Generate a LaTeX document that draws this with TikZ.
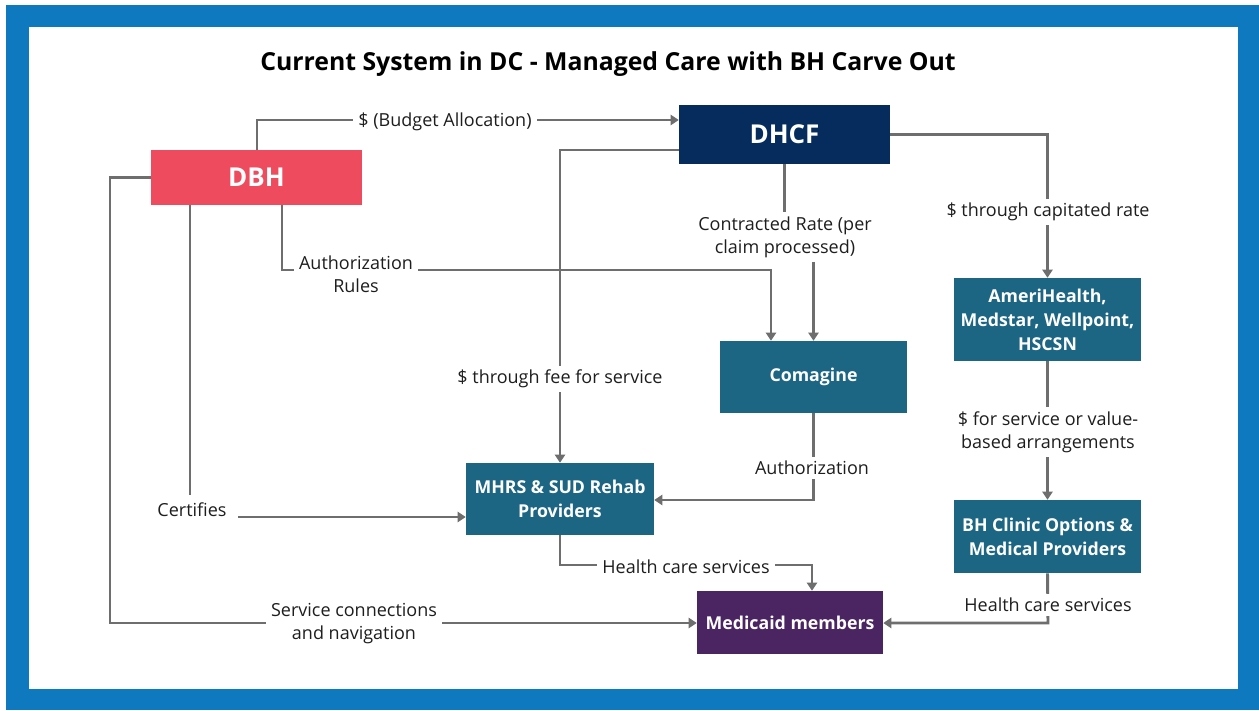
\documentclass[tikz,border=0pt]{standalone}
\usepackage{fontspec}
\setmainfont{Open Sans}
\usetikzlibrary{arrows.meta,calc}
\definecolor{frameblue}{HTML}{0F79BF}
\definecolor{dbhred}{HTML}{EF4B5E}
\definecolor{navy}{HTML}{052C5C}
\definecolor{teal}{HTML}{1C6684}
\definecolor{purp}{HTML}{4B2462}
\definecolor{linegray}{HTML}{6E6E6E}
\definecolor{txt}{HTML}{1E1E1E}
\begin{document}
\begin{tikzpicture}[x={(0.75pt,0)}, y={(0,-0.75pt)},
  box/.style 2 args={rectangle, inner sep=0pt, text=white, align=center,
    minimum width=#1*0.75pt, minimum height=#2*0.75pt},
  bigtxt/.style={font=\fontsize{19.5}{22}\selectfont\bfseries},
  smalltxt/.style={font=\fontsize{13.3}{18}\selectfont\bfseries},
  lbl/.style={fill=white, text=txt, align=center, inner xsep=4pt, inner ysep=3pt,
    yshift=-1.5pt, font=\fontsize{13.5}{17.3}\selectfont},
  conn/.style={draw=linegray, line width=2.2pt},
  arr/.style={conn, -{Triangle[length=6pt,width=7.5pt]}}]
\useasboundingbox (0,0) rectangle (1259,710);
\fill[white] (0,0) rectangle (1259,710);
\fill[frameblue] (6,5) rectangle (1259,710);
\fill[white] (29,27) rectangle (1238,689);

\node[text=black, font=\fontsize{18.6}{22}\selectfont\bfseries] (title) at (608,64) {Current System in DC - Managed Care with BH Carve Out};

% boxes
\node[box={211}{55}, fill=dbhred, bigtxt] (dbh) at (256.5,177.5) {DBH};
\node[box={211}{59}, fill=navy, bigtxt] (dhcf) at (784.5,134.5) {DHCF};
\node[box={187}{72}, fill=teal, smalltxt] (com) at (813.5,377) {Comagine};
\node[box={187}{83}, fill=teal, smalltxt] (ameri) at (1047.5,319.5) {AmeriHealth,\\Medstar, Wellpoint,\\HSCSN};
\node[box={188}{72}, fill=teal, smalltxt] (mhrs) at (560,499) {MHRS \& SUD Rehab\\Providers};
\node[box={187}{73}, fill=teal, smalltxt] (bhc) at (1047.5,536.5) {BH Clinic Options \&\\Medical Providers};
\node[box={186}{63}, fill=purp, smalltxt] (med) at (790,622.5) {Medicaid members};

% helper coordinates
\coordinate (b1) at (257,120);
\coordinate (f1) at (560,150);
\coordinate (r1) at (282,270);
\coordinate (r2) at (771,270);
\coordinate (s2) at (110,623);
\coordinate (c8) at (190,495);
\coordinate (c7) at (238,517);
\coordinate (h2) at (812,565);
\coordinate (h3) at (1048,623);
\coordinate (a1) at (813,500);

% connectors
\draw[arr] (dbh.north -| b1) |- (dhcf.west |- b1);
\draw[arr] (dhcf.west |- f1) -| (mhrs.north);
\draw[arr] (dhcf.east) -| (ameri.north);
\draw[arr] (dbh.south -| r1) |- (r2) -- (com.north -| r2);
\draw[arr] (dbh.west) -| (s2) -- (med.west |- s2);
\draw[conn] (dbh.south -| c8) -- (c8);
\draw[arr] (c7) -- (mhrs.west |- c7);
\draw[arr] (com.south) |- (mhrs.east |- a1);
\draw[arr] (mhrs.south) |- (h2) -- (med.north -| h2);
\draw[arr] (ameri.south) -- (bhc.north);
\draw[arr] (bhc.south) -- (h3) -- (med.east |- h3);
\draw[conn] (dhcf.south) -- ++(0,60);

% labels
\node[lbl] (lbudget) at (445,120) {\$ (Budget Allocation)};
\node[lbl] (lcr) at (785,235) {Contracted Rate (per\\claim processed)};
\draw[arr] (lcr.south -| com.north) -- (com.north);
\node[lbl] (lcap) at (1048,210) {\$ through capitated rate};
\node[lbl] (lrules) at (356,272) {Authorization\\Rules};
\node[lbl] (lfee) at (560,377) {\$ through fee for service};
\node[lbl] (lauth) at (812,466) {Authorization};
\node[lbl] (lcert) at (192,508) {Certifies};
\node[lbl] (lfs) at (1048,430) {\$ for service or value-\\based arrangements};
\node[lbl] (lhcs1) at (686,565) {Health care services};
\node[lbl] (lhcs2) at (1048,603) {Health care services};
\node[lbl] (lsvc) at (354,622) {Service connections\\and navigation};
\end{tikzpicture}
\end{document}
